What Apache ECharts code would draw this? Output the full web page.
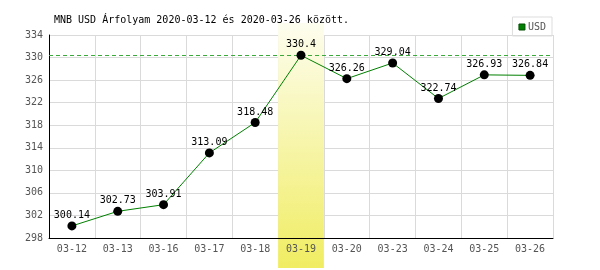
<!DOCTYPE html>
<html><head><meta charset="utf-8">
<script src="https://cdn.jsdelivr.net/npm/echarts@6/dist/echarts.min.js"></script>
<style>html,body{margin:0;padding:0;background:#fff}#c{width:600px;height:270px}</style>
</head><body><div id="c"></div>
<script>
const categories = ['03-12','03-13','03-16','03-17','03-18','03-19','03-20','03-23','03-24','03-25','03-26'];
const usdValues = [300.14, 302.73, 303.91, 313.09, 318.48, 330.4, 326.26, 329.04, 322.74, 326.93, 326.84];
const yMin = 298, yMax = 334, yInterval = 4;
const seriesName = 'USD';
const titleText = 'MNB USD Árfolyam 2020-03-12 és 2020-03-26 között.';
const highlightCategory = '03-19';

const maxValue = Math.max(...usdValues);
const bandData = categories.map(c => c === highlightCategory ? 1 : null);
const mono = 'DejaVu Sans Mono';

const chart = echarts.init(document.getElementById('c'), null, {renderer: 'canvas'});
chart.setOption({
  animation: false,
  backgroundColor: '#fff',
  title: {
    text: titleText, left: 54, top: 15, padding: 0,
    textStyle: {fontFamily: mono, fontSize: 10, fontWeight: 'normal', color: '#000'}
  },
  legend: {
    right: 48, top: 17, padding: [5, 6, 4, 6], borderColor: '#ddd', borderWidth: 1,
    itemWidth: 6, itemHeight: 6, itemGap: 3,
    textStyle: {fontFamily: mono, fontSize: 10, color: '#555', padding: [0, 0, 0, -2]},
    data: [{name: seriesName, icon: 'rect', itemStyle: {color: '#008000', borderColor: '#004d00', borderWidth: 1}}]
  },
  grid: [
    {left: 49, right: 47, top: 35, bottom: 32},
    {left: 49, right: 47, top: 23, bottom: 2}
  ],
  xAxis: [
    {gridIndex: 0, type: 'category', position: 'bottom', data: categories, boundaryGap: true, z: 0,
     axisLine: {show: false}, axisTick: {show: false}, axisLabel: {show: false},
     splitLine: {show: true, lineStyle: {color: '#dadada', width: 1}}},
    {gridIndex: 1, type: 'category', position: 'bottom', data: categories, show: false, boundaryGap: true},
    {gridIndex: 0, type: 'category', position: 'bottom', data: categories, boundaryGap: true, z: 4,
     axisLine: {show: true, onZero: false, lineStyle: {color: '#000', width: 1}}, axisTick: {show: false},
     axisLabel: {fontFamily: mono, fontSize: 10, color: '#555', margin: 6},
     splitLine: {show: false}}
  ],
  yAxis: [
    {gridIndex: 0, type: 'value', position: 'left', min: yMin, max: yMax, interval: yInterval, z: 0,
     axisLine: {show: false}, axisTick: {show: false}, axisLabel: {show: false},
     splitLine: {show: true, lineStyle: {color: '#dadada', width: 1}}},
    {gridIndex: 1, type: 'value', position: 'left', min: 0, max: 1, show: false, splitLine: {show: false}},
    {gridIndex: 0, type: 'value', position: 'left', min: yMin, max: yMax, interval: yInterval, z: 4,
     axisLine: {show: true, lineStyle: {color: '#000', width: 1}}, axisTick: {show: false},
     axisLabel: {fontFamily: mono, fontSize: 10, color: '#555', margin: 6},
     splitLine: {show: false}}
  ],
  series: [
    {name: 'maxref', type: 'line', xAxisIndex: 0, yAxisIndex: 0, data: usdValues, z: 2, silent: true,
     symbol: 'none', lineStyle: {opacity: 0}, itemStyle: {color: '#3aaa3a'}, label: {show: false},
     markLine: {symbol: ['none', 'none'], silent: true, label: {show: false},
       lineStyle: {color: '#3aaa3a', type: [4, 3], width: 1, opacity: 1},
       emphasis: {disabled: true},
       data: [{yAxis: maxValue}]}},
    {name: 'band', type: 'bar', xAxisIndex: 1, yAxisIndex: 1, data: bandData, barWidth: '100%', z: 3,
     silent: true,
     itemStyle: {color: new echarts.graphic.LinearGradient(0, 0, 0, 1, [
       {offset: 0, color: '#fdfdef'}, {offset: 1, color: '#f0ed62'}])}},
    {name: seriesName, type: 'line', xAxisIndex: 2, yAxisIndex: 2, data: usdValues, z: 5,
     symbol: 'circle', symbolSize: 9,
     itemStyle: {color: '#000'},
     lineStyle: {color: '#008000', width: 1},
     label: {show: true, position: 'top', distance: 1, fontFamily: mono, fontSize: 10, color: '#000'}}
  ]
});
</script>
</body></html>
